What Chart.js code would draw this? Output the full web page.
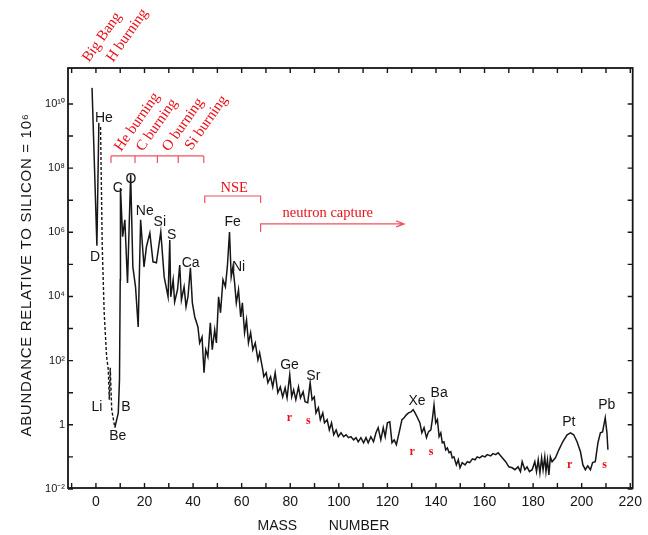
<!DOCTYPE html>
<html>
<head>
<meta charset="utf-8">
<script src="https://cdn.jsdelivr.net/npm/chart.js@4.4.1/dist/chart.umd.min.js"></script>
<style>
  html, body { margin: 0; padding: 0; background: #fff; }
  #wrap { width: 648px; height: 535px; }
</style>
</head>
<body>
<div id="wrap"><canvas id="abundance" width="648" height="535"></canvas></div>
<script>
// values, abundance kept as log10 (silicon = 10^6)
const hMass = [-1.6, 0.4, 1.2]
const hLog = [10.5, 5.58, 9.41]

// He -> Li -> Be, drawn dashed
const lightMass = [1.9, 2.6, 3.4, 4.4, 5.1, 5.5, 5.9, 6.5, 7.8]
const lightLog = [9.28, 5.55, 3.49, 2.12, 1.71, 0.78, 1.78, 0.47, -0.09]

const mainMass = [
    7.8, 9.2, 9.7, 10.0, 10.1, 11.0, 11.9, 13.0, 14.3, 15.2,
    16.3, 17.4, 18.4, 19.8, 20.8, 22.2, 23.5, 24.9, 26.7, 28.1,
    29.7, 30.4, 30.8, 31.8, 32.4, 33.6, 34.5, 35.2, 36.3, 37.1,
    37.9, 38.9, 39.7, 40.7, 42.0, 42.7, 43.7, 44.5, 45.2, 46.1,
    47.1, 47.9, 48.9, 49.6, 50.5, 51.3, 52.3, 53.3, 54.1, 55.0,
    55.7, 56.4, 57.1, 57.8, 58.7, 59.6, 60.3, 61.2, 62.0, 62.8,
    63.7, 64.6, 65.6, 66.7, 67.4, 68.7, 69.1, 70.1, 70.8, 71.9,
    72.8, 73.8, 74.9, 75.9, 76.9, 77.9, 78.7, 79.8, 80.6, 81.4,
    82.3, 83.4, 84.2, 85.3, 86.1, 87.2, 88.2, 89.0, 89.9, 90.6,
    91.6, 92.4, 93.4, 94.1, 95.2, 96.1, 97.0, 97.9, 98.9, 99.8,
    100.9, 102.0, 103.0, 104.0, 105.0, 106.1, 107.1, 108.0, 109.1, 110.2,
    111.2, 112.1, 113.2, 114.3, 115.3, 116.2, 117.3, 118.3, 119.1, 120.0,
    121.0, 121.9, 122.8, 123.7, 124.9, 126.0, 126.9, 127.8, 128.7, 129.7,
    130.6, 131.4, 132.4, 133.4, 134.2, 135.1, 136.1, 136.9, 137.9, 138.5,
    139.2, 139.9, 140.6, 141.3, 142.0, 142.6, 143.3, 144.0, 144.7, 145.4,
    146.1, 146.7, 147.4, 148.4, 149.2, 149.9, 150.8, 152.0, 152.9, 153.9,
    155.0, 156.1, 157.0, 158.0, 159.1, 160.2, 161.1, 162.5, 163.5, 164.6,
    165.6, 167.3, 168.7, 170.0, 171.4, 172.5, 173.8, 174.8, 175.5, 176.6,
    177.5, 178.5, 179.6, 180.7, 181.4, 182.1, 182.8, 183.5, 184.1, 184.8,
    185.3, 185.9, 186.5, 187.1, 187.8, 189.2, 190.6, 192.2, 194.0, 195.4,
    196.7, 198.1, 199.5, 200.5, 201.5, 202.5, 203.6, 204.5, 205.6, 206.7,
    207.7, 208.6, 209.7, 210.4, 210.8
]
const mainLog = [
    -0.09, 0.37, 1.40, 4.52, 7.38, 5.86, 6.39, 4.42, 7.79, 4.92,
    4.30, 3.05, 6.39, 4.92, 5.55, 5.98, 5.08, 5.05, 6.01, 4.61,
    3.99, 5.76, 3.99, 4.52, 3.83, 4.21, 4.98, 3.89, 4.30, 3.68,
    3.99, 4.89, 3.80, 3.36, 3.05, 2.55, 2.74, 1.62, 2.34, 2.12,
    3.18, 2.34, 2.96, 2.55, 3.99, 3.49, 4.52, 4.30, 4.92, 6.01,
    4.61, 4.92, 4.42, 3.80, 4.21, 3.36, 3.80, 2.87, 3.27, 2.55,
    2.87, 2.34, 2.55, 2.02, 2.24, 1.71, 1.50, 1.62, 1.31, 1.50,
    1.18, 1.62, 1.00, 1.18, 0.87, 1.15, 0.84, 1.56, 0.87, 1.09,
    0.78, 1.18, 0.84, 1.03, 0.72, 0.69, 1.31, 0.78, 0.87, 0.37,
    0.53, 0.16, 0.37, 0.06, 0.16, -0.16, 0.06, -0.31, -0.16, -0.37,
    -0.25, -0.37, -0.31, -0.40, -0.37, -0.47, -0.40, -0.53, -0.40, -0.56,
    -0.40, -0.56, -0.37, -0.53, -0.25, -0.09, -0.47, -0.09, -0.37, 0.06,
    0.09, -0.56, -0.47, -0.62, -0.22, 0.16, 0.22, 0.31, 0.37, 0.40,
    0.47, 0.37, 0.22, 0.06, -0.25, -0.09, -0.40, -0.22, -0.16, 0.16,
    0.62, 0.06, 0.16, -0.37, -0.25, -0.56, -0.53, -0.78, -0.72, -0.87,
    -0.84, -1.03, -1.00, -1.25, -1.09, -1.34, -1.18, -1.25, -1.15, -1.18,
    -1.06, -1.09, -1.00, -1.03, -0.97, -1.00, -0.93, -0.97, -0.90, -0.93,
    -0.87, -1.03, -1.15, -1.31, -1.34, -1.40, -1.31, -1.46, -1.15, -1.40,
    -1.31, -1.46, -1.40, -1.15, -1.46, -1.09, -1.50, -1.03, -1.40, -1.00,
    -1.46, -1.09, -1.56, -1.00, -1.15, -1.03, -0.78, -0.53, -0.31, -0.25,
    -0.31, -0.53, -0.84, -1.25, -1.40, -1.28, -1.40, -1.18, -1.15, -0.56,
    -0.25, -0.22, 0.22, -0.25, -0.78
]

const massTicks = [0, 20, 40, 60, 80, 100, 120, 140, 160, 180, 200, 220]
const massMinorTicks = [-10, 0, 10, 20, 30, 40, 50, 60, 70, 80, 90, 100, 110, 120,
    130, 140, 150, 160, 170, 180, 190, 200, 210, 220]
const decades = [-2, -1, 0, 1, 2, 3, 4, 5, 6, 7, 8, 9, 10]
const yTickLabels = { '-2': '10⁻²', '0': '1', '2': '10²', '4': '10⁴', '6': '10⁶', '8': '10⁸', '10': '10¹⁰' }

// element names next to the peaks
const elementNames = ['He', 'D', 'C', 'O', 'Ne', 'Si', 'S', 'Ca', 'Fe', 'Ni', 'Li', 'B', 'Be', 'Ge', 'Sr', 'Xe', 'Ba', 'Pt', 'Pb']
const elementMass = [3.3, -0.4, 9.0, 14.4, 20.1, 26.3, 31.2, 39.0, 56.3, 58.7, 0.4, 12.3, 9.0, 79.7, 89.5, 132.2, 141.3, 194.7, 210.3]
const elementLog = [9.56, 5.23, 7.38, 7.66, 6.67, 6.32, 5.92, 5.05, 6.32, 4.92, 0.56, 0.56, -0.34, 1.87, 1.53, 0.75, 1.0, 0.09, 0.62]

// r / s process marks
const processNames = ['r', 's', 'r', 's', 'r', 's']
const processMass = [79.7, 87.5, 130.2, 138.0, 195.1, 209.4]
const processLog = [0.22, 0.12, -0.84, -0.84, -1.25, -1.25]

// slanted process names
const burningNames = ['Big Bang', 'H burning', 'He burning', 'C burning', 'O burning', 'Si burning']
const burningMass = [-2.9, 7.0, 10.3, 19.3, 30.0, 39.4]
const burningLog = [11.28, 11.28, 8.5, 8.5, 8.5, 8.54]

const burningBracket = [6.2, 16.1, 25.3, 33.9, 44.4]
const nseBracket = [44.8, 67.8]
const neutronStart = 67.8
const neutronArrowEnd = 126.9

const toPoints = (ms, ls) => ms.map((m, i) => ({ x: m, y: Math.pow(10, ls[i]) }))

const RED = '#e8101a'
const PINK = '#f2505e'
const INK = '#161616'

const annotationPlugin = {
    id: 'annotationPlugin',
    afterDraw(chart) {
        const { ctx, chartArea } = chart
        const xs = chart.scales.x
        const ys = chart.scales.y
        const px = m => xs.getPixelForValue(m)
        const py = l => ys.getPixelForValue(Math.pow(10, l))

        ctx.save()
        // frame and inward ticks
        ctx.strokeStyle = INK
        ctx.lineWidth = 1.8
        ctx.strokeRect(chartArea.left, chartArea.top, chartArea.right - chartArea.left, chartArea.bottom - chartArea.top)
        ctx.lineWidth = 1.4
        ctx.beginPath()
        massMinorTicks.forEach(m => {
            const x = px(m)
            ctx.moveTo(x, chartArea.bottom)
            ctx.lineTo(x, chartArea.bottom - 5)
            ctx.moveTo(x, chartArea.top)
            ctx.lineTo(x, chartArea.top + 5)
        })
        decades.forEach(d => {
            const y = py(d)
            ctx.moveTo(chartArea.left, y)
            ctx.lineTo(chartArea.left + 5, y)
            ctx.moveTo(chartArea.right, y)
            ctx.lineTo(chartArea.right - 5, y)
        })
        ctx.stroke()

        // axis titles
        ctx.fillStyle = INK
        ctx.font = '14px "Liberation Sans", Arial, sans-serif'
        ctx.textAlign = 'center'
        ctx.textBaseline = 'middle'
        ctx.fillText('MASS', px(74.7), chartArea.bottom + 38)
        ctx.fillText('NUMBER', px(108.3), chartArea.bottom + 38)

        ctx.save()
        ctx.translate(chartArea.left - 41, (chartArea.top + chartArea.bottom) / 2 - 3)
        ctx.rotate(-Math.PI / 2)
        ctx.font = '15px "Liberation Sans", Arial, sans-serif'
        ctx.letterSpacing = '0.7px'
        ctx.fillText('ABUNDANCE RELATIVE TO SILICON = 10⁶', 0, 0)
        ctx.restore()

        // element labels
        ctx.font = '14px "Liberation Sans", Arial, sans-serif'
        elementNames.forEach((name, i) => {
            ctx.fillText(name, px(elementMass[i]), py(elementLog[i]))
        })

        // r / s
        ctx.fillStyle = RED
        ctx.font = 'bold 12px "Liberation Serif", "Times New Roman", serif'
        processNames.forEach((name, i) => {
            ctx.fillText(name, px(processMass[i]), py(processLog[i]))
        })

        // brackets
        ctx.strokeStyle = PINK
        ctx.lineWidth = 1.2
        ctx.beginPath()
        const by = py(8.38)
        ctx.moveTo(px(burningBracket[0]), by)
        ctx.lineTo(px(burningBracket[burningBracket.length - 1]), by)
        burningBracket.forEach(m => {
            ctx.moveTo(px(m), by)
            ctx.lineTo(px(m), by + 7)
        })
        const ny = py(7.13)
        ctx.moveTo(px(nseBracket[0]), ny + 7)
        ctx.lineTo(px(nseBracket[0]), ny)
        ctx.lineTo(px(nseBracket[1]), ny)
        ctx.lineTo(px(nseBracket[1]), ny + 7)
        const cy = py(6.26)
        const ax = px(neutronArrowEnd)
        ctx.moveTo(px(neutronStart), cy + 8)
        ctx.lineTo(px(neutronStart), cy)
        ctx.lineTo(ax, cy)
        ctx.moveTo(ax - 8, cy - 3)
        ctx.lineTo(ax, cy)
        ctx.lineTo(ax - 8, cy + 3)
        ctx.stroke()

        ctx.fillStyle = RED
        ctx.font = '14.5px "Liberation Serif", "Times New Roman", serif'
        ctx.textAlign = 'center'
        ctx.fillText('NSE', px(56.9), py(7.38))
        ctx.textAlign = 'left'
        ctx.fillText('neutron capture', px(76.8), py(6.6))

        ctx.font = '15px "Liberation Serif", "Times New Roman", serif'
        ctx.textBaseline = 'alphabetic'
        burningNames.forEach((name, i) => {
            ctx.save()
            ctx.translate(px(burningMass[i]), py(burningLog[i]))
            ctx.rotate(-55 * Math.PI / 180)
            ctx.fillText(name, 0, 0)
            ctx.restore()
        })
        ctx.restore()
    }
}

const ctx = document.querySelector('#abundance').getContext('2d')

new Chart(ctx, {
    type: 'scatter',
    data: {
        datasets: [{
            data: toPoints(hMass, hLog),
            showLine: true,
            borderColor: INK,
            borderWidth: 1.5,
            pointRadius: 0
        }, {
            data: toPoints(lightMass, lightLog),
            showLine: true,
            borderColor: INK,
            borderWidth: 1.4,
            borderDash: [3, 2],
            pointRadius: 0
        }, {
            data: toPoints(mainMass, mainLog),
            showLine: true,
            borderColor: INK,
            borderWidth: 1.5,
            pointRadius: 0
        }]
    },
    options: {
        responsive: false,
        animation: false,
        layout: { padding: { left: 0, right: 14, top: 68, bottom: 0 } },
        plugins: {
            legend: { display: false },
            tooltip: { enabled: false }
        },
        scales: {
            x: {
                type: 'linear',
                min: -11.5,
                max: 221,
                grid: { display: false, drawTicks: false },
                border: { display: false },
                afterBuildTicks: scale => { scale.ticks = massTicks.map(v => ({ value: v })) },
                afterFit: scale => { scale.height = 47 },
                ticks: {
                    autoSkip: false,
                    maxRotation: 0,
                    padding: 6,
                    color: INK,
                    font: { family: '"Liberation Sans", Arial, sans-serif', size: 14 },
                    callback: v => String(v)
                }
            },
            y: {
                type: 'logarithmic',
                min: Math.pow(10, -1.97),
                max: Math.pow(10, 11.12),
                grid: { display: false, drawTicks: false },
                border: { display: false },
                afterBuildTicks: scale => { scale.ticks = decades.map(d => ({ value: Math.pow(10, d) })) },
                afterFit: scale => { scale.width = 68 },
                ticks: {
                    autoSkip: false,
                    padding: 3,
                    color: INK,
                    font: { family: '"Liberation Sans", Arial, sans-serif', size: 11 },
                    callback: v => yTickLabels[String(Math.round(Math.log10(v)))] || ''
                }
            }
        }
    },
    plugins: [annotationPlugin]
})
</script>
</body>
</html>
